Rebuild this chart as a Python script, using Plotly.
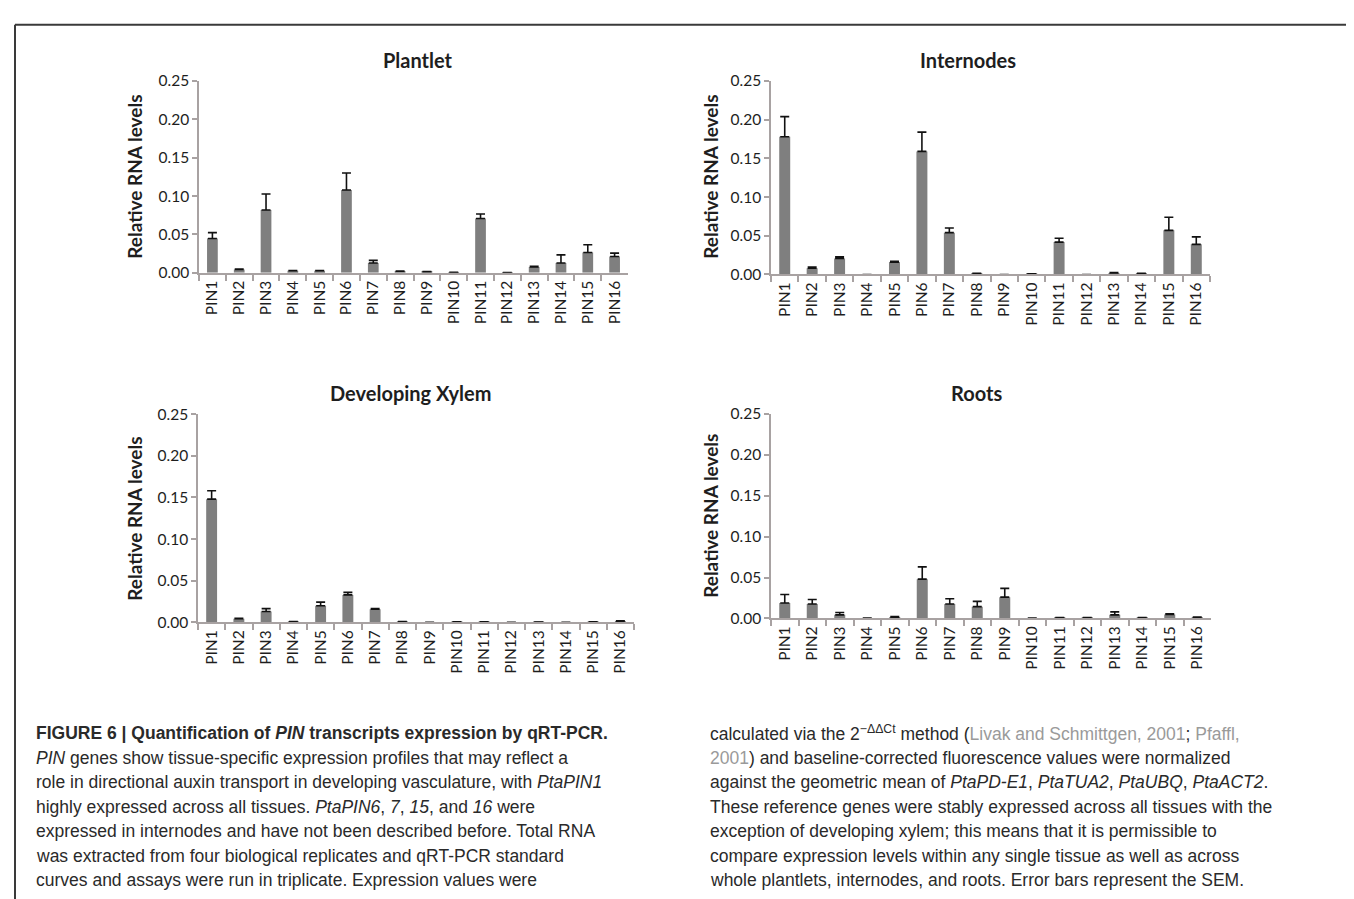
import plotly.graph_objects as go

genes = ["PIN1", "PIN2", "PIN3", "PIN4", "PIN5", "PIN6", "PIN7", "PIN8",
         "PIN9", "PIN10", "PIN11", "PIN12", "PIN13", "PIN14", "PIN15", "PIN16"]

plantlet_vals = [0.0447, 0.0043, 0.0818, 0.0026, 0.0026, 0.108, 0.0128, 0.0020,
                 0.0015, 0.0004, 0.0707, 0.0003, 0.0077, 0.0128, 0.0264, 0.0213]
plantlet_err = [0.0077, 0.0005, 0.021, 0.0004, 0.0004, 0.022, 0.0034, 0.0003,
                0.0002, 0.0001, 0.006, 0.0001, 0.0008, 0.0106, 0.0102, 0.0043]

internodes_vals = [0.178, 0.008, 0.0207, 0.0, 0.016, 0.159, 0.054, 0.0013,
                   0.0, 0.0008, 0.0418, 0.0, 0.0020, 0.0012, 0.057, 0.0389]
internodes_err = [0.026, 0.0017, 0.002, None, 0.001, 0.025, 0.006, 0.0002,
                  None, 0.0001, 0.005, None, 0.0005, 0.0002, 0.017, 0.0097]

xylem_vals = [0.148, 0.0043, 0.013, 0.0008, 0.020, 0.033, 0.0157, 0.0008,
              0.0, 0.0006, 0.0006, 0.0, 0.0003, 0.0, 0.0007, 0.0015]
xylem_err = [0.010, 0.0007, 0.0035, 0.0001, 0.0043, 0.003, 0.001, 0.0001,
             None, 0.0001, 0.0001, None, 0.0001, None, 0.0001, 0.0003]

roots_vals = [0.0188, 0.0176, 0.0044, 0.0003, 0.0016, 0.048, 0.0176, 0.0144,
              0.026, 0.0004, 0.0008, 0.0008, 0.0044, 0.0008, 0.0048, 0.0012]
roots_err = [0.0104, 0.0056, 0.0028, 0.0001, 0.0008, 0.015, 0.0064, 0.0064,
             0.0108, 0.0001, 0.0002, 0.0002, 0.0036, 0.0002, 0.0008, 0.0004]

panel_titles = ["Plantlet", "Internodes", "Developing Xylem", "Roots"]
y_title = "Relative RNA levels"
y_ticks = [0.0, 0.05, 0.10, 0.15, 0.20, 0.25]

caption_left = [
    "<b>FIGURE 6 | Quantification of <i>PIN</i> transcripts expression by qRT-PCR.</b>",
    "<i>PIN</i> genes show tissue-specific expression profiles that may reflect a",
    "role in directional auxin transport in developing vasculature, with <i>PtaPIN1</i>",
    "highly expressed across all tissues. <i>PtaPIN6</i>, <i>7</i>, <i>15</i>, and <i>16</i> were",
    "expressed in internodes and have not been described before. Total RNA",
    "was extracted from four biological replicates and qRT-PCR standard",
    "curves and assays were run in triplicate. Expression values were",
]
caption_right = [
    "calculated via the 2<sup>\u2212\u0394\u0394Ct</sup> method (<span style='color:#9a9a9a'>Livak and Schmittgen, 2001</span>; <span style='color:#9a9a9a'>Pfaffl,</span>",
    "<span style='color:#9a9a9a'>2001</span>) and baseline-corrected fluorescence values were normalized",
    "against the geometric mean of <i>PtaPD-E1</i>, <i>PtaTUA2</i>, <i>PtaUBQ</i>, <i>PtaACT2</i>.",
    "These reference genes were stably expressed across all tissues with the",
    "exception of developing xylem; this means that it is permissible to",
    "compare expression levels within any single tissue as well as across",
    "whole plantlets, internodes, and roots. Error bars represent the SEM.",
]

W, H = 1354, 899
def px(x):
    return x / W
def py(y):
    return 1 - y / H

# panel geometry in pixels: (x0, x1, ytop, ybottom)
panels = [
    (191, 620, 64.3, 260.0),
    (763, 1202, 64.3, 261.7),
    (190, 626, 404.3, 616.7),
    (763, 1203, 404.0, 612.7),
]
title_pos = [(410, 43), (960, 43), (402, 383), (968, 383)]
ytitle_pos = [(127, 162), (703, 162), (127, 511), (703, 508)]

series = [(plantlet_vals, plantlet_err), (internodes_vals, internodes_err),
          (xylem_vals, xylem_err), (roots_vals, roots_err)]

BAR = "#7f7f7f"
AX = "#a8a2a2"
TXT = "#1e1e1e"
FONT = "Lato"
CAP_FONT = "Liberation Sans"

fig = go.Figure()
layout = dict(
    width=W, height=H, margin=dict(l=0, r=0, t=0, b=0),
    paper_bgcolor="white", plot_bgcolor="white", showlegend=False,
    bargap=0.6,
)

annotations = []
for i, ((x0, x1, yt, yb), (vals, errs)) in enumerate(zip(panels, series)):
    n = "" if i == 0 else str(i + 1)
    fig.add_trace(go.Bar(
        x=genes, y=vals, marker=dict(color=BAR, line=dict(width=0)),
        error_y=dict(type="data", symmetric=False, array=errs,
                     arrayminus=[0] * len(vals), color="#111111",
                     thickness=1.6, width=4.5),
        xaxis="x" + n, yaxis="y" + n,
    ))
    layout["xaxis" + n] = dict(
        domain=[px(x0), px(x1)], anchor="y" + n, type="category",
        showline=True, linecolor=AX, linewidth=1.5, ticks="outside",
        tickson="boundaries", ticklen=6, tickcolor=AX, tickwidth=1.5,
        tickangle=-90, showgrid=False, zeroline=False,
        tickfont=dict(family=FONT, size=15.5, color=TXT),
    )
    layout["yaxis" + n] = dict(
        domain=[py(yb), py(yt)], anchor="x" + n, range=[0, 0.25],
        tickvals=y_ticks, tickformat=".2f",
        showline=True, linecolor=AX, linewidth=1.5, ticks="outside",
        ticklen=5, tickcolor=AX, tickwidth=1.5, showgrid=False, zeroline=False,
        tickfont=dict(family=FONT, size=15.5, color=TXT),
    )
    tx, ty = title_pos[i]
    annotations.append(dict(
        x=px(tx), y=py(ty), xref="paper", yref="paper", showarrow=False,
        text="<b>%s</b>" % panel_titles[i], xanchor="center", yanchor="middle",
        font=dict(family=FONT, size=20, color=TXT),
    ))
    ax_, ay_ = ytitle_pos[i]
    annotations.append(dict(
        x=px(ax_), y=py(ay_), xref="paper", yref="paper", showarrow=False,
        text="<b>%s</b>" % y_title, textangle=-90, xanchor="center", yanchor="middle",
        font=dict(family=FONT, size=19, color=TXT),
    ))

for j, line in enumerate(caption_left):
    annotations.append(dict(
        x=px(26), y=py(730 + 25 * j), xref="paper", yref="paper", showarrow=False,
        text=line, xanchor="left", yanchor="middle", align="left",
        font=dict(family=CAP_FONT, size=17.5, color="#2a2a2a"),
    ))
for j, line in enumerate(caption_right):
    annotations.append(dict(
        x=px(700), y=py(730 + 25 * j), xref="paper", yref="paper", showarrow=False,
        text=line, xanchor="left", yanchor="middle", align="left",
        font=dict(family=CAP_FONT, size=17.5, color="#2a2a2a"),
    ))

layout["annotations"] = annotations
layout["shapes"] = [
    dict(type="line", xref="paper", yref="paper", x0=px(7), x1=px(7), y0=py(7), y1=0,
         line=dict(color="#3a3a3a", width=2)),
    dict(type="line", xref="paper", yref="paper", x0=px(7), x1=px(1352), y0=py(7), y1=py(7),
         line=dict(color="#3a3a3a", width=2)),
    dict(type="line", xref="paper", yref="paper", x0=px(1352), x1=px(1352), y0=py(7), y1=0,
         line=dict(color="#3a3a3a", width=2)),
]
fig.update_layout(**layout)
fig.write_html("out.html")
